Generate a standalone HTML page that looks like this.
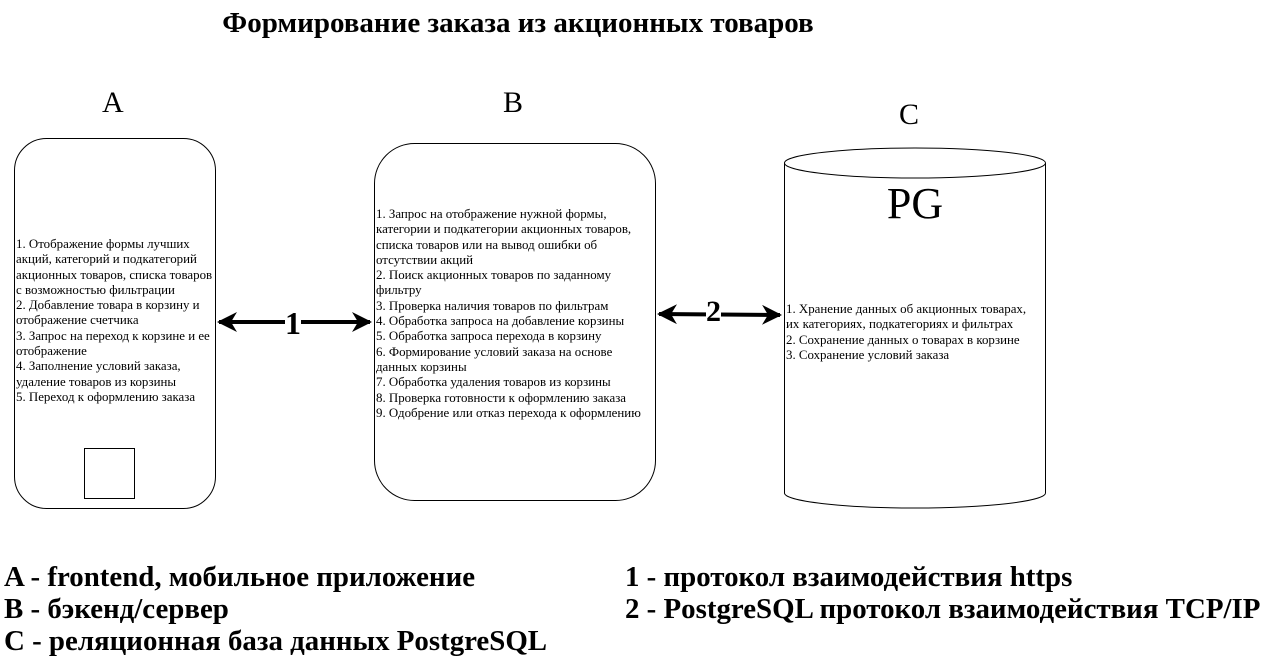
<!DOCTYPE html>
<html><head><meta charset="utf-8"><style>
body{margin:0;width:1270px;height:667px;background:#fff;position:relative;overflow:hidden;font-family:"Liberation Serif",serif;color:#000}
.a{position:absolute;white-space:nowrap}
.t{font-size:12.9px;line-height:15.3px;white-space:nowrap}
.lg{font-size:28.9px;font-weight:bold;line-height:32px}
</style></head><body>
<div class="a" style="left:0;width:1036px;top:7px;text-align:center;font-size:29px;font-weight:bold">Формирование заказа из акционных товаров</div>
<div class="a" style="left:102px;top:86px;font-size:30px">A</div>
<div class="a" style="left:503px;top:86px;font-size:30px">B</div>
<div class="a" style="left:899px;top:98px;font-size:30px">C</div>
<svg class="a" style="left:0;top:0" width="1270" height="667">
<defs><marker id="ar" viewBox="0 0 10 10" refX="9" refY="5" markerWidth="5" markerHeight="5" orient="auto-start-reverse"><path d="M0,0 L10,5 L0,10 L3,5z" fill="#000"/></marker></defs>
<rect x="14.5" y="138.5" width="201" height="370" rx="32" fill="none" stroke="#000"/>
<rect x="84.5" y="448.5" width="50" height="50" fill="none" stroke="#000"/>
<rect x="374.5" y="143.5" width="281" height="357" rx="40" fill="none" stroke="#000"/>
<path d="M784.5,163 L784.5,493 A130.5,15 0 0 0 1045.5,493 L1045.5,163" fill="none" stroke="#000"/>
<ellipse cx="915" cy="163" rx="130.5" ry="15" fill="none" stroke="#000"/>
<line x1="219" y1="322" x2="370" y2="322" stroke="#000" stroke-width="4" marker-start="url(#ar)" marker-end="url(#ar)"/>
<line x1="659" y1="314" x2="780" y2="315" stroke="#000" stroke-width="4" marker-start="url(#ar)" marker-end="url(#ar)"/>
</svg>
<div class="a" style="left:285px;top:306px;font-size:32px;font-weight:bold;background:#fff;line-height:34px">1</div>
<div class="a" style="left:706px;top:296px;font-size:30px;font-weight:bold;background:#fff;line-height:32px">2</div>
<div class="a t" style="left:16px;top:237px">1. Отображение формы лучших<br>акций, категорий и подкатегорий<br>акционных товаров, списка товаров<br>с возможностью фильтрации<br>2. Добавление товара в корзину и<br>отображение счетчика<br>3. Запрос на переход к корзине и ее<br>отображение<br>4. Заполнение условий заказа,<br>удаление товаров из корзины<br>5. Переход к оформлению заказа</div>
<div class="a t" style="left:376px;top:207px">1. Запрос на отображение нужной формы,<br>категории и подкатегории акционных товаров,<br>списка товаров или на вывод ошибки об<br>отсутствии акций<br>2. Поиск акционных товаров по заданному<br>фильтру<br>3. Проверка наличия товаров по фильтрам<br>4. Обработка запроса на добавление корзины<br>5. Обработка запроса перехода в корзину<br>6. Формирование условий заказа на основе<br>данных корзины<br>7. Обработка удаления товаров из корзины<br>8. Проверка готовности к оформлению заказа<br>9. Одобрение или отказ перехода к оформлению</div>
<div class="a" style="left:784px;width:262px;top:178px;text-align:center;font-size:44px;line-height:52px">PG</div>
<div class="a t" style="left:786px;top:302px">1. Хранение данных об акционных товарах,<br>их категориях, подкатегориях и фильтрах<br>2. Сохранение данных о товарах в корзине<br>3. Сохранение условий заказа</div>
<div class="a lg" style="left:4px;top:561px">A - frontend, мобильное приложение<br>B - бэкенд/сервер<br>C - реляционная база данных PostgreSQL</div>
<div class="a lg" style="left:625px;top:561px">1 - протокол взаимодействия https<br>2 - PostgreSQL протокол взаимодействия TCP/IP</div>
</body></html>
